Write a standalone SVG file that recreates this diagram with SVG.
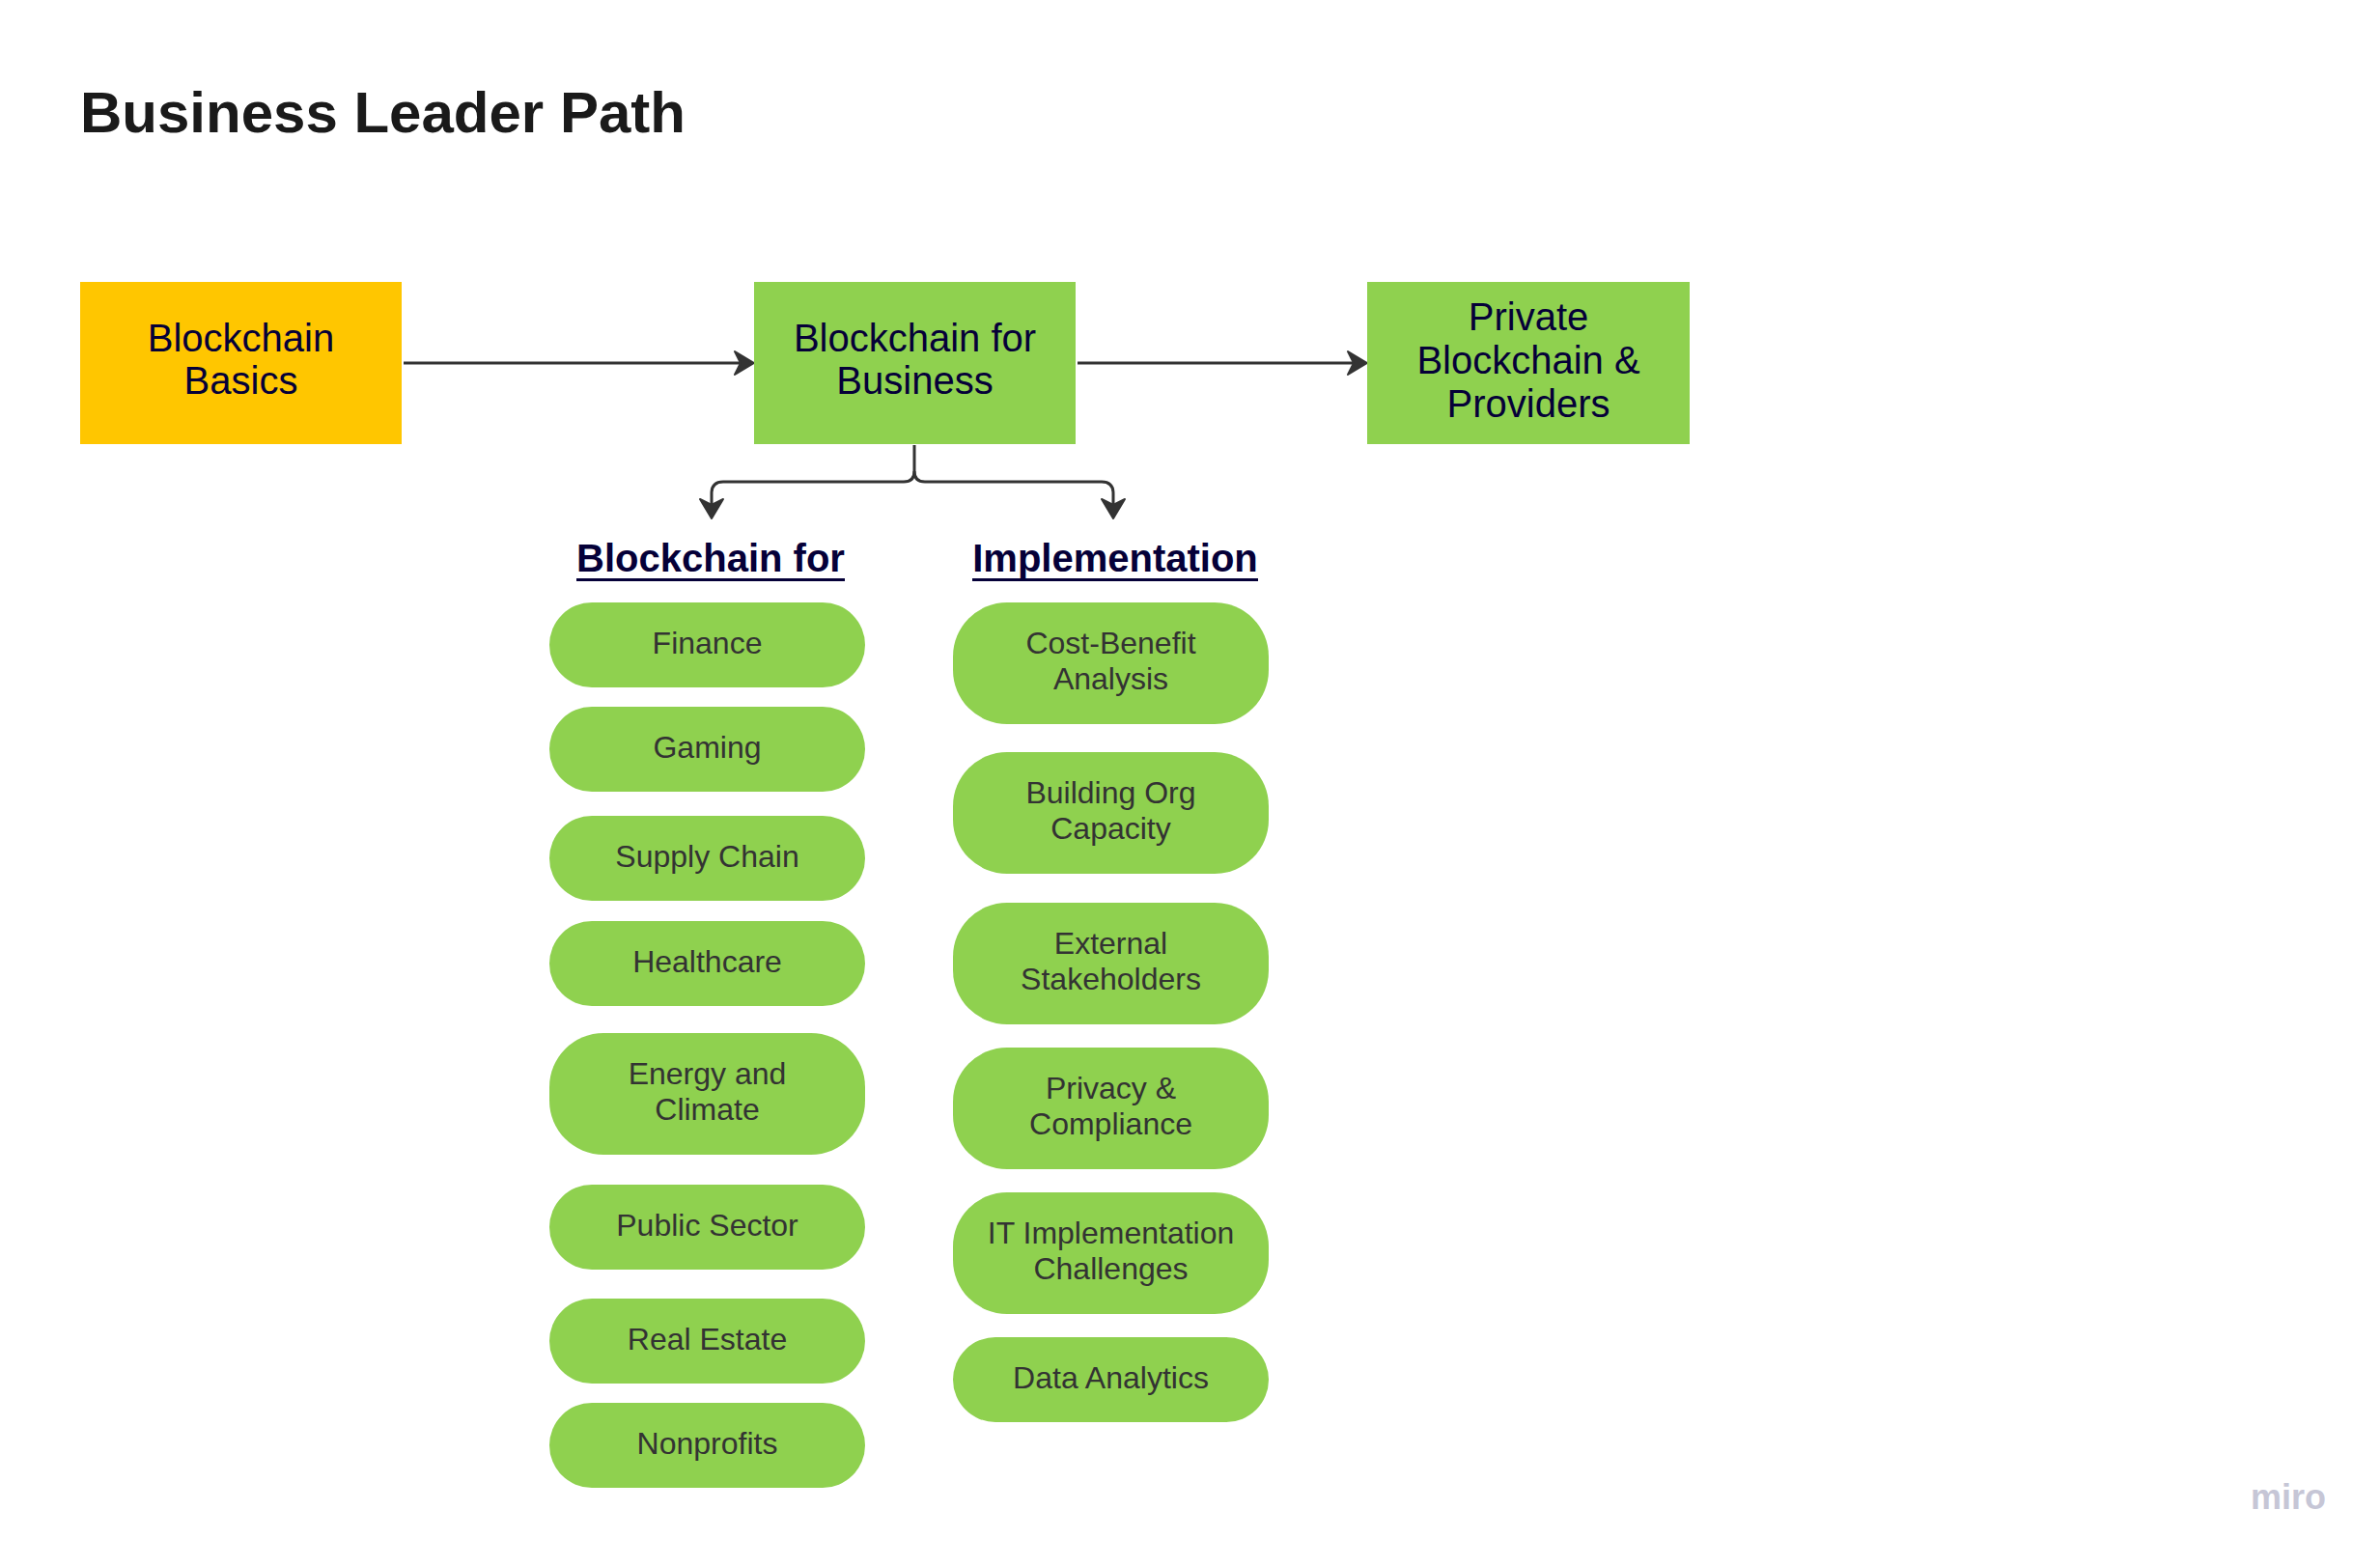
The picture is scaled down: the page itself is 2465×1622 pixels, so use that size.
<svg xmlns="http://www.w3.org/2000/svg" width="2465" height="1622" viewBox="0 0 2465 1622">
  <style>
    .title { font-family: "Liberation Sans", Arial, sans-serif; font-weight: bold; font-size: 60px; fill: #1a1a1a; }
    .box-text { font-family: "Liberation Sans", Arial, sans-serif; font-size: 40px; fill: #050038; text-anchor: middle; }
    .heading { font-family: "Liberation Sans", Arial, sans-serif; font-weight: bold; font-size: 40px; fill: #050038; text-anchor: middle; }
    .pill-text { font-family: "Liberation Sans", Arial, sans-serif; font-size: 32px; fill: #333333; text-anchor: middle; }
    .green { fill: #8fd14f; }
    .yellow { fill: #ffc600; }
    .conn { fill: none; stroke: #333333; stroke-width: 3; stroke-linejoin: round; }
    .uline { fill: #050038; }
    .logo { font-family: "Liberation Sans", Arial, sans-serif; font-weight: bold; font-size: 36px; fill: #c6c6d6; }
  </style>
  <defs>
    <marker id="arr" markerUnits="userSpaceOnUse" markerWidth="40" markerHeight="40" viewBox="-30 -20 40 40" refX="-8" refY="0" orient="auto">
      <path d="M0,0 L-20,-12 L-14,0 L-20,12 Z" fill="#333333" stroke="#333333" stroke-width="2" stroke-linejoin="round"/>
    </marker>
  </defs>
  <rect width="2465" height="1622" fill="#ffffff"/>

  <text class="title" x="83" y="137">Business Leader Path</text>

  <g id="connectors">
    <path class="conn" d="M418,376 H773" marker-end="url(#arr)"/>
    <path class="conn" d="M1116,376 H1408" marker-end="url(#arr)"/>
    <path class="conn" d="M947,461 V488 Q947,499 936,499 H749 Q737,499 737,511 V529" marker-end="url(#arr)"/>
    <path class="conn" d="M947,488 Q947,499 958,499 H1141 Q1153,499 1153,511 V529" marker-end="url(#arr)"/>
  </g>

  <g id="blockchain-basics">
    <rect class="yellow" x="83" y="292" width="333" height="168"/>
    <text class="box-text" x="249.5" y="364">Blockchain</text>
    <text class="box-text" x="249.5" y="408">Basics</text>
  </g>

  <g id="blockchain-for-business">
    <rect class="green" x="781" y="292" width="333" height="168"/>
    <text class="box-text" x="947.5" y="364">Blockchain for</text>
    <text class="box-text" x="947.5" y="408">Business</text>
  </g>

  <g id="private-blockchain">
    <rect class="green" x="1416" y="292" width="334" height="168"/>
    <text class="box-text" x="1583" y="342">Private</text>
    <text class="box-text" x="1583" y="387">Blockchain &amp;</text>
    <text class="box-text" x="1583" y="432">Providers</text>
  </g>

  <g id="heading-blockchain-for">
    <text class="heading" x="736" y="592">Blockchain for</text>
    <rect class="uline" x="597" y="599" width="278" height="3"/>
  </g>

  <g id="heading-implementation">
    <text class="heading" x="1155" y="592">Implementation</text>
    <rect class="uline" x="1007" y="599" width="296" height="3"/>
  </g>

  <g id="finance">
    <rect class="green" x="569" y="624" width="327" height="88" rx="44"/>
    <text class="pill-text" x="732.5" y="677">Finance</text>
  </g>
  <g id="gaming">
    <rect class="green" x="569" y="732" width="327" height="88" rx="44"/>
    <text class="pill-text" x="732.5" y="785">Gaming</text>
  </g>
  <g id="supply-chain">
    <rect class="green" x="569" y="845" width="327" height="88" rx="44"/>
    <text class="pill-text" x="732.5" y="898">Supply Chain</text>
  </g>
  <g id="healthcare">
    <rect class="green" x="569" y="954" width="327" height="88" rx="44"/>
    <text class="pill-text" x="732.5" y="1007">Healthcare</text>
  </g>
  <g id="energy-climate">
    <rect class="green" x="569" y="1070" width="327" height="126" rx="56"/>
    <text class="pill-text" x="732.5" y="1123">Energy and</text>
    <text class="pill-text" x="732.5" y="1160">Climate</text>
  </g>
  <g id="public-sector">
    <rect class="green" x="569" y="1227" width="327" height="88" rx="44"/>
    <text class="pill-text" x="732.5" y="1280">Public Sector</text>
  </g>
  <g id="real-estate">
    <rect class="green" x="569" y="1345" width="327" height="88" rx="44"/>
    <text class="pill-text" x="732.5" y="1398">Real Estate</text>
  </g>
  <g id="nonprofits">
    <rect class="green" x="569" y="1453" width="327" height="88" rx="44"/>
    <text class="pill-text" x="732.5" y="1506">Nonprofits</text>
  </g>

  <g id="cost-benefit">
    <rect class="green" x="987" y="624" width="327" height="126" rx="56"/>
    <text class="pill-text" x="1150.5" y="677">Cost-Benefit</text>
    <text class="pill-text" x="1150.5" y="714">Analysis</text>
  </g>
  <g id="building-org">
    <rect class="green" x="987" y="779" width="327" height="126" rx="56"/>
    <text class="pill-text" x="1150.5" y="832">Building Org</text>
    <text class="pill-text" x="1150.5" y="869">Capacity</text>
  </g>
  <g id="external-stakeholders">
    <rect class="green" x="987" y="935" width="327" height="126" rx="56"/>
    <text class="pill-text" x="1150.5" y="988">External</text>
    <text class="pill-text" x="1150.5" y="1025">Stakeholders</text>
  </g>
  <g id="privacy-compliance">
    <rect class="green" x="987" y="1085" width="327" height="126" rx="56"/>
    <text class="pill-text" x="1150.5" y="1138">Privacy &amp;</text>
    <text class="pill-text" x="1150.5" y="1175">Compliance</text>
  </g>
  <g id="it-implementation">
    <rect class="green" x="987" y="1235" width="327" height="126" rx="56"/>
    <text class="pill-text" x="1150.5" y="1288">IT Implementation</text>
    <text class="pill-text" x="1150.5" y="1325">Challenges</text>
  </g>
  <g id="data-analytics">
    <rect class="green" x="987" y="1385" width="327" height="88" rx="44"/>
    <text class="pill-text" x="1150.5" y="1438">Data Analytics</text>
  </g>

  <g id="miro-logo">
    <text class="logo" x="2331" y="1563">miro</text>
  </g>
</svg>
